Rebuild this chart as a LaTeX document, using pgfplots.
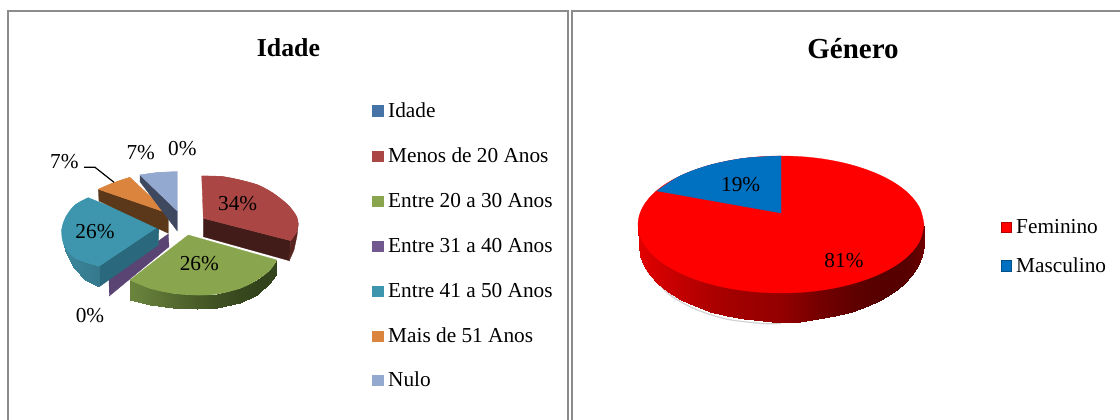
\documentclass[border=0pt]{standalone}
\usepackage{pgfplots}
\pgfplotsset{compat=1.18}
\usepackage{fontspec}
\setmainfont{Liberation Serif}
\definecolor{cIdade}{RGB}{69,114,167}
\definecolor{cMenos}{RGB}{170,70,67}
\definecolor{cE20}{RGB}{137,165,78}
\definecolor{cE31}{RGB}{113,88,143}
\definecolor{cE41}{RGB}{61,150,174}
\definecolor{cMais}{RGB}{219,132,61}
\definecolor{cNulo}{RGB}{147,169,207}
\definecolor{cFem}{RGB}{255,0,0}
\definecolor{cMasc}{RGB}{0,112,192}
\definecolor{frame}{RGB}{140,140,140}
\definecolor{wTeal}{RGB}{42,105,125}
\definecolor{wOrange}{RGB}{92,56,26}
\definecolor{wNulo}{RGB}{62,72,95}
\definecolor{wRedA}{RGB}{66,28,24}
\definecolor{wRedB}{RGB}{88,36,32}
\definecolor{wPurple}{RGB}{90,68,115}
\pgfplotsset{
  poly/.style={fill=#1,draw=#1,line width=0.3pt,forget plot},
  arc/.style={fill=#1,draw=#1,line width=0.3pt,smooth,tension=0.6,forget plot},
  wall/.style={surf,shader=interp,mesh/rows=2,forget plot,point meta=explicit}
}
\tikzset{
  lab/.style={anchor=base,font=\fontsize{21.3}{24}\selectfont,text=black,inner sep=0pt},
  leg/.style={anchor=base west,font=\fontsize{21.3}{24}\selectfont,text=black,inner sep=0pt}
}
\begin{document}
\begin{tikzpicture}
\path[use as bounding box] (0,0) rectangle (1120pt,420pt);
\begin{axis}[
  at={(0,0)},anchor=south west,
  scale only axis,width=1120pt,height=420pt,
  xmin=0,xmax=1120,ymin=0,ymax=420,y dir=reverse,
  axis lines=none,enlargelimits=false,clip=true,
  point meta min=0,point meta max=1]
% frames
\addplot[frame,line width=2pt,forget plot] coordinates {(8,420)(8,11)(568,11)(568,420)};
\addplot[frame,line width=2.2pt,forget plot] coordinates {(572,420)(572,11)(1120,11)};
% ---- Idade ----
% Entre 31 a 40 (0%)
\addplot[poly=wPurple] coordinates {(168.3,234)(169,246.7)(109.3,296)(109,275.7)} --cycle;
% Entre 41 a 50 walls
\addplot[poly=wTeal] coordinates {(159,226)(99.3,266)(99.3,286.7)(158.3,245)} --cycle;
\addplot[wall,colormap={teal}{rgb255=(20,60,75) rgb255=(80,170,195)}] table[meta=c] {
x y c
61.7 230 0.7
64 245 0.68
73.3 256.7 0.64
85 262 0.6
99.3 266 0.55
61.7 232 0.7
65 251 0.68
74 268 0.64
85 279.5 0.6
99.3 286.7 0.55
};
\addplot[poly=cE41] coordinates {(159,226)(88.3,197.7)(75,205)(66,216.7)(61.7,230)(64,245)(73.3,256.7)(85,262)(99.3,266)} --cycle;
\addplot[arc=cE41] coordinates {(88.3,197.7)(75,205)(66,216.7)(61.7,230)(64,245)(73.3,256.7)(85,262)(99.3,266)};
% Mais de 51
\addplot[poly=wOrange] coordinates {(98.3,189.3)(99,201)(168.3,233.3)(168.3,213.3)} --cycle;
\addplot[poly=cMais] coordinates {(168.3,213.3)(130,177.3)(113,183)(98.3,189.3)} --cycle;
\addplot[arc=cMais] coordinates {(130,177.3)(113,183)(98.3,189.3)};
% Nulo
\addplot[poly=wNulo] coordinates {(140,175)(140,181.7)(177.3,231)(177.3,211)} --cycle;
\addplot[poly=cNulo] coordinates {(177.3,211)(177.3,171.7)(158,172.5)(140,175)} --cycle;
\addplot[arc=cNulo] coordinates {(177.3,171.7)(158,172.5)(140,175)};
% Menos de 20
\addplot[poly=wRedA] coordinates {(203.3,218.3)(290.7,240.7)(289.3,260.7)(203.3,236.7)} --cycle;
\addplot[poly=wRedB] coordinates {(290.7,240.7)(296,233)(298.3,223)(297,236)(294,250)(289.3,260.7)} --cycle;
\addplot[poly=cMenos] coordinates {(203.3,218.3)(201.7,176)(222,176.5)(240,180)(258,185)(273.3,193.3)(288,205)(296.7,216.7)(298,226)(296,233)(290.7,240.7)} --cycle;
\addplot[arc=cMenos] coordinates {(201.7,176)(222,176.5)(240,180)(258,185)(273.3,193.3)(288,205)(296.7,216.7)(298,226)(296,233)(290.7,240.7)};
% Entre 20 a 30
\addplot[wall,colormap={grn}{rgb255=(30,42,14) rgb255=(115,142,66)}] table[meta=c] {
x y c
130 280 0.9
150 288.3 0.8
173.3 293.3 0.65
196.7 295 0.5
216.7 294 0.4
240 288.3 0.3
256.7 280 0.25
270 270 0.25
276.7 260 0.25
130 300 0.9
150 305 0.8
173.3 308.3 0.65
196.7 309.3 0.5
216.7 308.3 0.4
240 303.3 0.3
256.7 295 0.25
270 283.3 0.25
276.7 273.3 0.25
};
\addplot[poly=cE20] coordinates {(188.3,235)(276.7,260)(270,270)(256.7,280)(240,288.3)(216.7,294)(196.7,295)(173.3,293.3)(150,288.3)(130,280)} --cycle;
\addplot[arc=cE20] coordinates {(276.7,260)(270,270)(256.7,280)(240,288.3)(216.7,294)(196.7,295)(173.3,293.3)(150,288.3)(130,280)};
% leader line
\addplot[black,line width=1.2pt,forget plot] coordinates {(84,167.3)(95,167.3)(114,182.3)};
% labels
\node[lab] at (axis cs:237.7,210) {34\%};
\node[lab] at (axis cs:199.3,270.7) {26\%};
\node[lab] at (axis cs:95,238.3) {26\%};
\node[lab] at (axis cs:64.3,168.3) {7\%};
\node[lab] at (axis cs:140.7,159) {7\%};
\node[lab] at (axis cs:182.3,155.7) {0\%};
\node[lab] at (axis cs:90,322.7) {0\%};
\node[anchor=base,inner sep=0pt,font=\fontsize{25.8}{28}\selectfont\bfseries] at (axis cs:288.5,57) {Idade};
% legend Idade
\addplot[only marks,mark=square*,mark size=5.3pt,color=cIdade,forget plot] coordinates {(377.5,111)};
\addplot[only marks,mark=square*,mark size=5.3pt,color=cMenos,forget plot] coordinates {(377.5,156)};
\addplot[only marks,mark=square*,mark size=5.3pt,color=cE20,forget plot] coordinates {(377.5,201)};
\addplot[only marks,mark=square*,mark size=5.3pt,color=cE31,forget plot] coordinates {(377.5,246)};
\addplot[only marks,mark=square*,mark size=5.3pt,color=cE41,forget plot] coordinates {(377.5,291)};
\addplot[only marks,mark=square*,mark size=5.3pt,color=cMais,forget plot] coordinates {(377.5,336)};
\addplot[only marks,mark=square*,mark size=5.3pt,color=cNulo,forget plot] coordinates {(377.5,380)};
\node[leg] at (axis cs:388,117.7) {Idade};
\node[leg] at (axis cs:388,162.7) {Menos de 20 Anos};
\node[leg] at (axis cs:388,207.7) {Entre 20 a 30 Anos};
\node[leg] at (axis cs:388,252.7) {Entre 31 a 40 Anos};
\node[leg] at (axis cs:388,297.7) {Entre 41 a 50 Anos};
\node[leg] at (axis cs:388,342.7) {Mais de 51 Anos};
\node[leg] at (axis cs:388,386.7) {Nulo};
% ---- Genero ----
\addplot[gray!35,line width=1.2pt,smooth,forget plot] coordinates {(641,250)(645,267)(652,277)(670,295)(695,309)(726,319)(762,323.5)(781,323.5)};
\addplot[wall,colormap={redw}{rgb255=(0,0,0) rgb255=(255,0,0)}] table[meta=c] {
x y c
638 226 0.88
640.2 226 0.88
643.8 226 0.87
649.8 226 0.85
658 226 0.83
668.3 226 0.80
680.6 226 0.76
694.5 226 0.72
710 226 0.68
726.7 226 0.65
744.2 226 0.62
762.5 226 0.60
781 226 0.58
799.5 226 0.52
817.8 226 0.46
835.3 226 0.42
852 226 0.38
867.5 226 0.35
881.4 226 0.34
893.7 226 0.34
904 226 0.34
912.2 226 0.36
918.2 226 0.39
921.8 226 0.42
924 226 0.45
639 246 0.88
640.2 255.9 0.88
643.8 265.7 0.87
649.8 275.1 0.85
658 284 0.83
668.3 292.3 0.80
680.6 299.7 0.76
694.5 306.3 0.72
710 311.8 0.68
726.7 316.2 0.65
744.2 319.4 0.62
762.5 321.3 0.60
781 322.5 0.58
799.5 321.8 0.52
817.8 319.4 0.46
835.3 316.2 0.42
852 311.8 0.38
867.5 306.3 0.35
881.4 299.7 0.34
893.7 292.3 0.34
904 284 0.34
912.2 275.1 0.36
918.2 265.7 0.39
921.8 255.9 0.42
923.5 246 0.45
};
\addplot[cFem,fill=cFem,draw=cFem,line width=0.3pt,smooth,tension=0.6,forget plot] coordinates {
(924,224.5)(919.1,242.2)(904.8,258.8)(882.1,272.9)(852.5,283.8)(818,290.7)(781,293)(744,290.7)(709.5,283.8)(679.9,272.9)(657.2,258.8)(642.9,242.2)(638,224.5)(642.9,206.8)(657.2,190.2)(679.9,176.1)(709.5,165.2)(744,158.3)(781,156)(818,158.3)(852.5,165.2)(882.1,176.1)(904.8,190.2)(919.1,206.8)(924,224.5)};
\addplot[poly=cMasc] coordinates {(781,213)(781,156)(744,158.3)(709.5,165.2)(679.9,176.1)(657.2,191)} --cycle;
\addplot[arc=cMasc] coordinates {(781,156)(744,158.3)(709.5,165.2)(679.9,176.1)(657.2,191)};
\node[lab] at (axis cs:740.7,191) {19\%};
\node[lab] at (axis cs:844,267.3) {81\%};
\node[anchor=base,inner sep=0pt,font=\fontsize{29}{32}\selectfont\bfseries] at (axis cs:853,59) {Género};
\addplot[only marks,mark=square*,mark size=5.3pt,color=cFem,mark options={draw=cFem!70!black,line width=0.8pt},forget plot] coordinates {(1006.3,227.5)};
\addplot[only marks,mark=square*,mark size=5.3pt,color=cMasc,mark options={draw=cMasc!70!black,line width=0.8pt},forget plot] coordinates {(1006.3,266)};
\node[leg] at (axis cs:1016,233.3) {Feminino};
\node[leg] at (axis cs:1016,272.3) {Masculino};
\end{axis}
\end{tikzpicture}
\end{document}
